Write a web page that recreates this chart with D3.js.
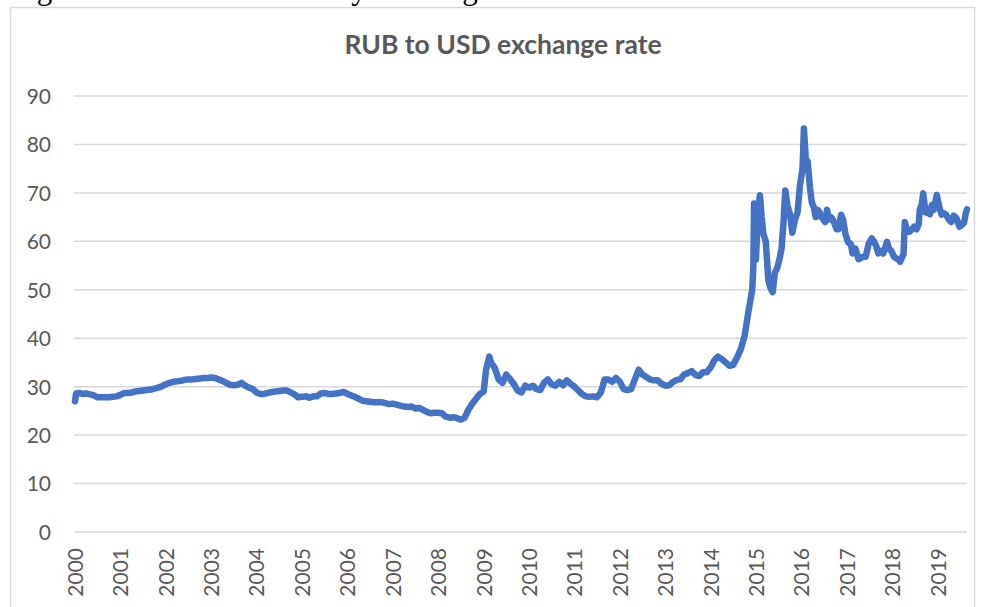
<!DOCTYPE html>
<html><head><meta charset="utf-8">
<script src="https://cdn.jsdelivr.net/npm/d3@7"></script>
<style>
html,body{margin:0;padding:0;background:#fff;overflow:hidden}
svg{display:block}
</style></head>
<body>
<svg id="chart" width="983" height="607"></svg>
<script>
const captionText = "Figure 3: RUB to USD daily exchange rate";
const titleText = "RUB to USD exchange rate";
const yTicks = [0,10,20,30,40,50,60,70,80,90];
const yearLabels = ["2000","2001","2002","2003","2004","2005","2006","2007","2008","2009","2010","2011","2012","2013","2014","2015","2016","2017","2018","2019"];

const dates = [
"2000-01-01","2000-01-10","2000-02-01","2000-03-01","2000-04-01","2000-05-01","2000-06-01","2000-07-01","2000-08-01","2000-09-01","2000-10-01","2000-11-01","2000-12-01",
"2001-01-01","2001-02-01","2001-03-01","2001-04-01","2001-05-01","2001-06-01","2001-07-01","2001-08-01","2001-09-01","2001-10-01","2001-11-01","2001-12-01",
"2002-01-01","2002-02-01","2002-03-01","2002-04-01","2002-05-01","2002-06-01","2002-07-01","2002-08-01","2002-09-01","2002-10-01","2002-11-01","2002-12-01",
"2003-01-01","2003-02-01","2003-03-01","2003-04-01","2003-05-01","2003-06-01","2003-07-01","2003-08-01","2003-09-01","2003-10-01","2003-11-01","2003-12-01",
"2004-01-01","2004-02-01","2004-03-01","2004-04-01","2004-05-01","2004-06-01","2004-07-01","2004-08-01","2004-09-01","2004-10-01","2004-11-01","2004-12-01",
"2005-01-01","2005-02-01","2005-03-01","2005-04-01","2005-05-01","2005-06-01","2005-07-01","2005-08-01","2005-09-01","2005-10-01","2005-11-01","2005-12-01",
"2006-01-01","2006-02-01","2006-03-01","2006-04-01","2006-05-01","2006-06-01","2006-07-01","2006-08-01","2006-09-01","2006-10-01","2006-11-01","2006-12-01",
"2007-01-01","2007-02-01","2007-03-01","2007-04-01","2007-05-01","2007-06-01","2007-07-01","2007-08-01","2007-09-01","2007-10-01","2007-11-01","2007-12-01",
"2008-01-01","2008-02-01","2008-03-01","2008-04-01","2008-05-01","2008-06-01","2008-07-01","2008-08-01","2008-09-01","2008-10-01","2008-11-01","2008-12-01",
"2009-01-01","2009-01-20","2009-02-15","2009-03-01","2009-04-01","2009-05-01","2009-06-01","2009-07-01","2009-08-01","2009-09-01","2009-10-01","2009-11-01","2009-12-01",
"2010-01-01","2010-02-01","2010-03-01","2010-04-01","2010-05-01","2010-06-01","2010-07-01","2010-08-01","2010-09-01","2010-10-01","2010-11-01","2010-12-01",
"2011-01-01","2011-02-01","2011-03-01","2011-04-01","2011-05-01","2011-06-01","2011-07-01","2011-08-01","2011-09-01","2011-10-01","2011-11-01","2011-12-01",
"2012-01-01","2012-02-01","2012-03-01","2012-04-01","2012-05-01","2012-06-01","2012-07-01","2012-08-01","2012-09-01","2012-10-01","2012-11-01","2012-12-01",
"2013-01-01","2013-02-01","2013-03-01","2013-04-01","2013-05-01","2013-06-01","2013-07-01","2013-08-01","2013-09-01","2013-10-01","2013-11-01","2013-12-01",
"2014-01-01","2014-02-01","2014-03-01","2014-04-01","2014-05-01","2014-06-01","2014-07-01","2014-08-01","2014-09-01","2014-10-01","2014-11-01","2014-12-01","2014-12-10","2014-12-16","2014-12-20","2014-12-31",
"2015-01-15","2015-02-01","2015-02-15","2015-03-01","2015-03-20","2015-04-10","2015-04-25","2015-05-15","2015-06-01","2015-06-20","2015-07-10","2015-07-25","2015-08-10","2015-08-24","2015-09-10","2015-10-01","2015-10-20","2015-11-10","2015-12-01","2015-12-20",
"2016-01-10","2016-01-21","2016-02-05","2016-02-20","2016-03-10","2016-03-25","2016-04-10","2016-04-25","2016-05-10","2016-05-25","2016-06-10","2016-06-25","2016-07-10","2016-07-25","2016-08-10","2016-08-25","2016-09-10","2016-09-25","2016-10-10","2016-10-25","2016-11-15","2016-12-01","2016-12-20",
"2017-01-10","2017-02-01","2017-02-15","2017-03-10","2017-04-05","2017-04-20","2017-05-10","2017-06-01","2017-06-25","2017-07-20","2017-08-05","2017-08-25","2017-09-10","2017-10-01","2017-10-20","2017-11-20","2017-12-05","2017-12-25",
"2018-01-15","2018-02-01","2018-02-20","2018-03-05","2018-04-01","2018-04-12","2018-05-01","2018-05-20","2018-06-10","2018-06-25","2018-07-15","2018-08-01","2018-08-10","2018-08-25","2018-09-07","2018-09-25","2018-10-15","2018-10-30","2018-11-15","2018-12-01","2018-12-25",
"2019-01-15","2019-02-01","2019-02-20","2019-03-10","2019-04-01","2019-04-20","2019-05-10","2019-06-01","2019-06-25","2019-07-10","2019-08-01","2019-08-15","2019-08-25"
];
const rates = [
27.0,28.6,28.7,28.5,28.6,28.4,28.2,27.8,27.8,27.8,27.8,27.9,28.0,
28.3,28.7,28.7,28.8,29.0,29.1,29.2,29.3,29.4,29.6,29.8,30.1,
30.5,30.8,31.0,31.1,31.2,31.4,31.5,31.5,31.6,31.7,31.8,31.8,
31.9,31.8,31.5,31.2,30.8,30.4,30.3,30.4,30.8,30.2,29.8,29.5,
28.8,28.5,28.5,28.7,28.9,29.0,29.1,29.2,29.2,28.8,28.4,27.8,
27.9,28.0,27.7,28.0,28.0,28.6,28.7,28.5,28.5,28.6,28.7,28.9,
28.5,28.2,27.9,27.5,27.1,27.0,26.9,26.8,26.8,26.8,26.6,26.4,
26.5,26.3,26.1,25.9,25.8,25.9,25.5,25.6,25.2,24.8,24.5,24.6,
24.6,24.5,23.8,23.6,23.7,23.5,23.2,23.6,25.3,26.5,27.5,28.5,
29.0,33.5,36.2,35.0,33.8,31.5,30.8,32.5,31.6,30.5,29.2,28.8,30.2,
29.8,30.2,29.5,29.3,30.8,31.5,30.5,30.2,31.0,30.3,31.3,30.6,
30.0,29.2,28.5,28.0,27.9,28.0,27.8,28.8,31.5,31.5,31.0,31.8,
31.0,29.5,29.3,29.5,31.5,33.5,32.5,32.0,31.5,31.3,31.3,30.6,
30.2,30.3,30.9,31.4,31.5,32.5,32.8,33.2,32.4,32.2,33.0,33.0,
34.0,35.5,36.2,35.7,35.0,34.3,34.5,36.0,37.8,40.5,45.5,50.0,54.5,67.8,57.0,56.2,
65.5,69.5,65.0,61.5,60.0,52.0,50.5,49.5,53.5,54.5,56.5,58.5,64.0,70.5,67.5,65.5,61.8,64.5,66.0,71.5,
75.0,83.3,77.0,76.5,71.0,68.0,67.0,65.0,66.5,66.0,65.0,64.5,64.0,66.5,64.5,65.0,64.5,63.5,62.5,62.5,65.5,64.5,61.5,
59.8,59.5,57.5,58.5,56.3,56.5,56.8,56.8,59.5,60.6,60.0,59.0,57.5,58.0,57.5,59.9,58.5,58.0,
56.8,56.5,56.2,55.8,57.3,64.0,62.0,62.0,62.5,63.0,62.5,63.5,66.5,67.5,69.9,66.0,65.8,65.6,67.5,66.5,69.6,
67.0,65.5,65.8,65.5,64.5,64.0,65.3,64.8,63.0,63.3,63.8,65.8,66.6
];

const parse = d3.timeParse("%Y-%m-%d");
const data = dates.map((d,i)=>({date:parse(d), v:rates[i]}));

const svg = d3.select("#chart");
const grey = "#595959";
const font = "Lato, 'Open Sans', sans-serif";

// caption, cut off at the top edge as in the reference
svg.append("text").attr("x",11).attr("y",-1)
  .attr("font-family","'Liberation Serif', serif").attr("font-size",31)
  .attr("fill","#000").text(captionText);

// chart frame
svg.append("rect").attr("x",10.5).attr("y",7.5).attr("width",964).attr("height",700)
  .attr("fill","#fff").attr("stroke","#d9d9d9").attr("stroke-width",1.5);

const x = d3.scaleTime().domain([parse("2000-01-01"), parse("2019-08-25")]).range([75, 967]);
const y = d3.scaleLinear().domain([0,90]).range([532, 96]);

// gridlines
svg.append("g").selectAll("line").data(yTicks).join("line")
  .attr("x1",74).attr("x2",967).attr("y1",d=>y(d)).attr("y2",d=>y(d))
  .attr("stroke","#d9d9d9").attr("stroke-width",1.5);

// y axis labels
const yAxis = d3.axisLeft(y).tickValues(yTicks).tickSize(0).tickPadding(0);
const gy = svg.append("g").attr("transform","translate(51,0)").call(yAxis);
gy.select(".domain").remove();
gy.selectAll("text").attr("font-family",font).attr("font-size",21).attr("fill",grey).attr("dy","0.35em");

// x axis labels
const yearDates = yearLabels.map(s=>parse(s+"-01-01"));
const xAxis = d3.axisBottom(x).tickValues(yearDates).tickFormat(d3.timeFormat("%Y")).tickSize(0).tickPadding(0);
const gx = svg.append("g").attr("transform","translate(0,548)").call(xAxis);
gx.select(".domain").remove();
gx.selectAll("text").attr("font-family",font).attr("font-size",21).attr("fill",grey)
  .attr("transform","rotate(-90)").attr("text-anchor","end").attr("x",0).attr("y",0).attr("dy","0.35em");

// line
const line = d3.line().x(d=>x(d.date)).y(d=>y(d.v)).curve(d3.curveLinear);
svg.append("path").datum(data).attr("d",line).attr("fill","none")
  .attr("stroke","#4472C4").attr("stroke-width",6.5).attr("stroke-linejoin","round").attr("stroke-linecap","round");

// title
svg.append("text").attr("x",503).attr("y",54).attr("text-anchor","middle")
  .attr("font-family",font).attr("font-weight","bold").attr("font-size",26.5).attr("fill",grey)
  .text(titleText);
</script>
</body></html>
